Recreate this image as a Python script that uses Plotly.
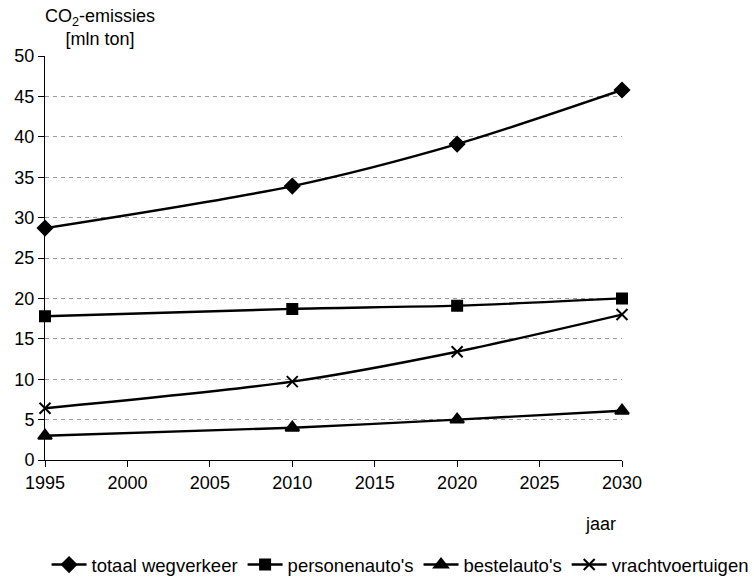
import plotly.graph_objects as go

years = [1995, 2010, 2020, 2030]
totaal = [28.7, 33.9, 39.1, 45.8]
personen = [17.8, 18.7, 19.1, 20.0]
bestel = [3.0, 4.0, 5.0, 6.1]
vracht = [6.4, 9.7, 13.4, 18.0]

series = [
    ("totaal wegverkeer", totaal, "diamond", 11),
    ("personenauto's", personen, "square", 10),
    ("bestelauto's", bestel, "triangle-up", 12),
    ("vrachtvoertuigen", vracht, "x-thin-open", 11),
]

FONT = "Liberation Sans, Arial, Helvetica, sans-serif"

fig = go.Figure()
for name, vals, sym, size in series:
    fig.add_trace(go.Scatter(
        x=years, y=vals, name=name, mode="lines+markers",
        line=dict(color="black", width=2.4, shape="spline", smoothing=0.8),
        marker=dict(symbol=sym, size=size, color="black",
                    line=dict(color="black", width=2)),
        cliponaxis=False,
    ))

fig.update_layout(
    width=754, height=579,
    margin=dict(l=45, r=132, t=56, b=119, autoexpand=False),
    paper_bgcolor="white", plot_bgcolor="white",
    font=dict(family=FONT, size=18, color="black"),
    showlegend=True,
    legend=dict(orientation="h", x=1.228, xanchor="right", y=-0.26, yanchor="middle",
                font=dict(size=18.5), itemwidth=35, bgcolor="rgba(0,0,0,0)"),
    xaxis=dict(range=[1995, 2030], tickmode="linear", tick0=1995, dtick=5,
               showline=True, linecolor="black", linewidth=1,
               ticks="outside", ticklen=6, tickcolor="black",
               showgrid=False, zeroline=False, tickfont=dict(size=18)),
    yaxis=dict(range=[0, 50], tickmode="linear", tick0=0, dtick=5,
               showline=True, linecolor="black", linewidth=1,
               ticks="outside", ticklen=6, tickcolor="black",
               showgrid=True, gridcolor="#9a9a9a", griddash="4px,4px", gridwidth=1,
               zeroline=False, tickfont=dict(size=18)),
    annotations=[
        dict(text="CO<sub>2</sub>-emissies<br>[mln ton]", xref="paper", yref="paper",
             x=0.0953, y=1.07, xanchor="center", yanchor="middle", showarrow=False,
             align="center", font=dict(size=18)),
        dict(text="jaar", xref="paper", yref="paper", x=0.9636, y=-0.158,
             xanchor="center", yanchor="middle", showarrow=False, font=dict(size=18)),
    ],
)

fig.write_html("out.html")
